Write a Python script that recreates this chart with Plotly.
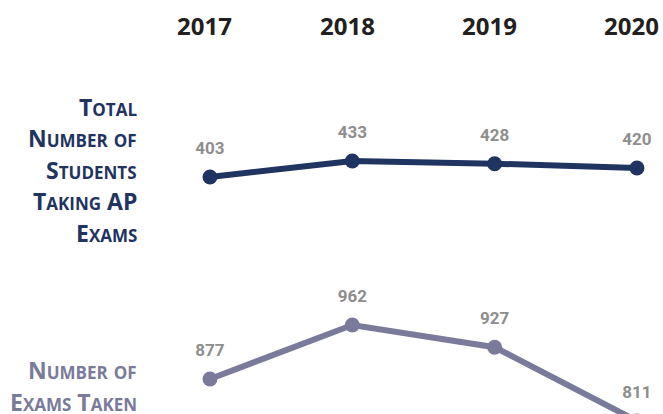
import plotly.graph_objects as go

years = ["2017", "2018", "2019", "2020"]
students = [403, 433, 428, 420]
exams = [877, 962, 927, 811]

students_label = ["Total", "Number of", "Students", "Taking AP", "Exams"]
exams_label = ["Number of", "Exams Taken"]

NAVY = "#1f3461"
PURPLE = "#7a7a9a"
GREY = "#8e8e8e"
DARK = "#231f20"

W, H = 663, 414
xpos = list(range(len(years)))

fig = go.Figure()

def add_series(vals, color, yaxis):
    fig.add_trace(go.Scatter(
        x=xpos, y=vals, mode="lines+markers", yaxis=yaxis,
        line=dict(color=color, width=6), marker=dict(color=color, size=15),
        hoverinfo="skip", showlegend=False))
    fig.add_trace(go.Scatter(
        x=xpos, y=vals, mode="markers+text", yaxis=yaxis,
        text=[str(v) for v in vals], textposition="top center",
        textfont=dict(family="Roboto", size=17, color=GREY, weight="bold"),
        marker=dict(color="rgba(0,0,0,0)", size=28),
        cliponaxis=True, hoverinfo="skip", showlegend=False))

add_series(students, NAVY, "y")
add_series(exams, PURPLE, "y2")

def smallcaps(s, small=17):
    out = []
    for word in s.split(" "):
        w = ""
        for ch in word:
            if ch.isupper():
                w += ch
            else:
                w += "<span style='font-size:%dpx'>%s</span>" % (small, ch.upper())
        out.append(w)
    return " ".join(out)

ann = []
for i, y in enumerate(years):
    ann.append(dict(x=i, y=1 - 25 / H, xref="x", yref="paper", yanchor="middle",
                    xshift=-5, text="<b>%s</b>" % y, showarrow=False,
                    font=dict(family="Open Sans", size=24, color=DARK)))

def add_label(lines, top_px, color):
    for k, ln in enumerate(lines):
        ypx = top_px + k * 31.5
        ann.append(dict(x=139 / W, y=1 - ypx / H, xref="paper", yref="paper",
                        xanchor="right", yanchor="middle", showarrow=False,
                        text="<b>%s</b>" % smallcaps(ln),
                        font=dict(family="Open Sans", size=23, color=color)))

add_label(students_label, 107, NAVY)
add_label(exams_label, 370, PURPLE)

fig.update_layout(
    width=W, height=H, margin=dict(l=0, r=0, t=0, b=0),
    paper_bgcolor="white", plot_bgcolor="white",
    xaxis=dict(range=[-1.4754, 3.183], visible=False, fixedrange=True),
    yaxis=dict(range=[-41.3, 734.9], visible=False, domain=[0, 1], fixedrange=True),
    yaxis2=dict(range=[821.9, 1473.6], visible=False, overlaying="y", fixedrange=True),
    annotations=ann,
    hovermode=False,
)

fig.write_html("out.html", config={"displayModeBar": False},
               post_script="document.body.style.margin='0';document.body.style.overflow='hidden';")
